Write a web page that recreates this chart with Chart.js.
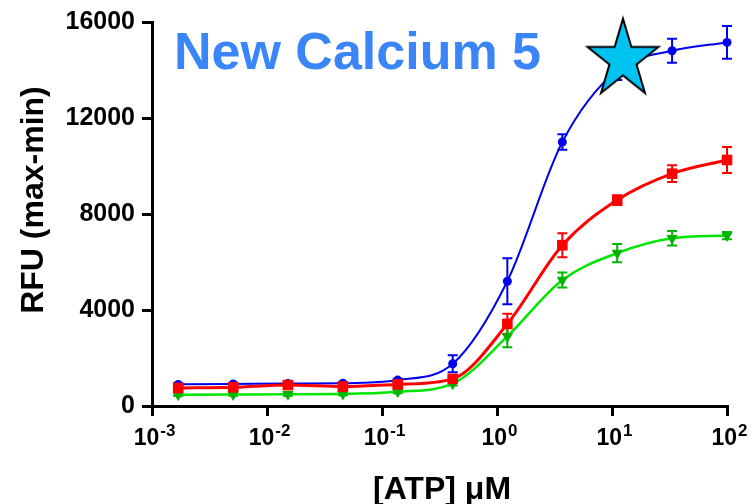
<!DOCTYPE html>
<html>
<head>
<meta charset="utf-8">
<script src="https://cdn.jsdelivr.net/npm/chart.js@4.4.1/dist/chart.umd.min.js"></script>
<style>
  html, body { margin: 0; padding: 0; background: #fff; }
</style>
</head>
<body>
<canvas id="myChart" width="755" height="504"></canvas>
<script>
// ATP concentrations (uM), 3-fold dilutions
let atp = [0.00169, 0.00508, 0.0152, 0.0457, 0.137, 0.412, 1.23, 3.70, 11.1, 33.3, 100];

// RFU (max-min) and error bars
let blueVals = [900, 920, 940, 950, 1080, 1760, 5200, 11000, 14000, 14800, 15150];
let blueErr  = [50, 50, 50, 50, 60, 350, 960, 320, 420, 500, 680];
let redVals  = [750, 780, 870, 810, 900, 1130, 3420, 6700, 8580, 9680, 10250];
let redErr   = [60, 60, 80, 120, 80, 100, 420, 500, 200, 350, 540];
let greenVals = [470, 480, 490, 500, 590, 930, 2900, 5250, 6370, 6990, 7100];
let greenErr  = [50, 50, 60, 50, 60, 80, 450, 310, 380, 300, 150];

// the star marker
let starX = [12.46];
let starY = [14430];

// axis ticks
let xTicks = [0.001, 0.01, 0.1, 1, 10, 100];
let xExp = ["-3", "-2", "-1", "0", "1", "2"];
let yTicks = [0, 4000, 8000, 12000, 16000];

let FONT = "'Liberation Sans', Arial, sans-serif";

function pts(xs, ys) {
  return xs.map(function(x, i) { return { x: x, y: ys[i] }; });
}

//builds the star picture used as point style
function makeStar() {
  let c = document.createElement("canvas");
  c.width = 90;
  c.height = 90;
  let g = c.getContext("2d");
  let R = 41, r = 41 * 0.382;
  g.beginPath();
  for (let k = 0; k < 10; k++) {
    let rad = k % 2 ? r : R;
    let a = -Math.PI / 2 + k * Math.PI / 5;
    let px = 45 + rad * Math.cos(a) * 0.91;
    let py = 45 + rad * Math.sin(a);
    if (k == 0) g.moveTo(px, py);
    else g.lineTo(px, py);
  }
  g.closePath();
  g.fillStyle = "#00c3f2";
  g.fill();
  g.lineWidth = 2;
  g.strokeStyle = "#000";
  g.lineJoin = "miter";
  g.stroke();
  return c;
}

let series = [
  { vals: blueVals, err: blueErr, color: "#0000f0" },
  { vals: redVals, err: redErr, color: "#ff0000" },
  { vals: greenVals, err: greenErr, color: "#00b400" }
];

//error bars, tick labels and titles
let extras = {
  id: "extras",
  beforeDatasetsDraw(chart) {
    let ctx = chart.ctx;
    let xs = chart.scales.x, ys = chart.scales.y;
    ctx.save();
    ctx.font = "bold 52px " + FONT;
    ctx.fillStyle = "#3a85f8";
    ctx.textAlign = "left";
    ctx.textBaseline = "alphabetic";
    ctx.fillText("New Calcium 5", 174, 69);

    ctx.lineWidth = 2;
    series.forEach(function(s) {
      ctx.strokeStyle = s.color;
      for (let i = 0; i < atp.length; i++) {
        let x = xs.getPixelForValue(atp[i]);
        let yt = ys.getPixelForValue(s.vals[i] + s.err[i]);
        let yb = ys.getPixelForValue(s.vals[i] - s.err[i]);
        ctx.beginPath();
        ctx.moveTo(x, yt);
        ctx.lineTo(x, yb);
        ctx.moveTo(x - 5, yt);
        ctx.lineTo(x + 5, yt);
        ctx.moveTo(x - 5, yb);
        ctx.lineTo(x + 5, yb);
        ctx.stroke();
      }
    });
    ctx.restore();
  },
  afterDraw(chart) {
    let ctx = chart.ctx;
    let xs = chart.scales.x;
    ctx.save();
    ctx.fillStyle = "#000";
    ctx.textBaseline = "alphabetic";
    ctx.textAlign = "left";
    for (let i = 0; i < xTicks.length; i++) {
      let x = xs.getPixelForValue(xTicks[i]);
      ctx.font = "bold 23px " + FONT;
      let w1 = ctx.measureText("10").width;
      ctx.font = "bold 17px " + FONT;
      let w2 = ctx.measureText(xExp[i]).width;
      let x0 = x - (w1 + w2) / 2 + 2;
      ctx.font = "bold 23px " + FONT;
      ctx.fillText("10", x0, 445);
      ctx.font = "bold 17px " + FONT;
      ctx.fillText(xExp[i], x0 + w1 + 1, 436);
    }

    ctx.font = "bold 32px " + FONT;
    ctx.textAlign = "center";
    ctx.fillText("[ATP] \u03bcM", 442, 499);

    ctx.translate(43, 200);
    ctx.rotate(-Math.PI / 2);
    ctx.fillText("RFU (max-min)", 0, 0);
    ctx.restore();
  }
};

let myChart = new Chart(document.getElementById("myChart").getContext("2d"), {
  type: "line",
  data: {
    datasets: [
      {
        data: pts(starX, starY),
        showLine: false,
        pointStyle: makeStar(),
        pointRadius: 40,
        clip: false,
        order: -1
      },
      {
        data: pts(atp, redVals),
        borderColor: "#ff0000",
        backgroundColor: "#ff0000",
        borderWidth: 3,
        pointStyle: "rect",
        pointRadius: 7.5,
        pointBorderWidth: 0,
        cubicInterpolationMode: "monotone",
        clip: false,
        order: 1
      },
      {
        data: pts(atp, blueVals),
        borderColor: "#0000f0",
        backgroundColor: "#0000f0",
        borderWidth: 2,
        pointStyle: "circle",
        pointRadius: 4.5,
        pointBorderWidth: 0,
        cubicInterpolationMode: "monotone",
        clip: false,
        order: 2
      },
      {
        data: pts(atp, greenVals),
        borderColor: "#00e600",
        backgroundColor: "#00b400",
        borderWidth: 2.5,
        pointStyle: "triangle",
        pointRotation: 180,
        pointRadius: 6.5,
        pointBorderWidth: 0,
        cubicInterpolationMode: "monotone",
        clip: false,
        order: 3
      }
    ]
  },
  options: {
    responsive: false,
    animation: false,
    layout: { autoPadding: false, padding: { top: 22, right: 28, left: 0, bottom: 0 } },
    plugins: { legend: { display: false }, tooltip: { enabled: false } },
    scales: {
      x: {
        type: "logarithmic",
        min: 0.001,
        max: 100,
        afterBuildTicks: function(s) {
          s.ticks = xTicks.map(function(v) { return { value: v }; });
        },
        afterFit: function(s) { s.height = 98; },
        ticks: { display: false },
        grid: { drawOnChartArea: false, drawTicks: true, tickLength: 10, color: "#000", lineWidth: 3 },
        border: { display: true, width: 3, color: "#000" }
      },
      y: {
        min: 0,
        max: 16000,
        afterBuildTicks: function(s) {
          s.ticks = yTicks.map(function(v) { return { value: v }; });
        },
        afterFit: function(s) { s.width = 152; },
        ticks: {
          color: "#000",
          padding: 7,
          font: { family: FONT, size: 25, weight: "bold" },
          callback: function(v) { return String(v); }
        },
        grid: { drawOnChartArea: false, drawTicks: true, tickLength: 10, color: "#000", lineWidth: 3 },
        border: { display: true, width: 3, color: "#000" }
      }
    }
  },
  plugins: [extras]
});
</script>
</body>
</html>
